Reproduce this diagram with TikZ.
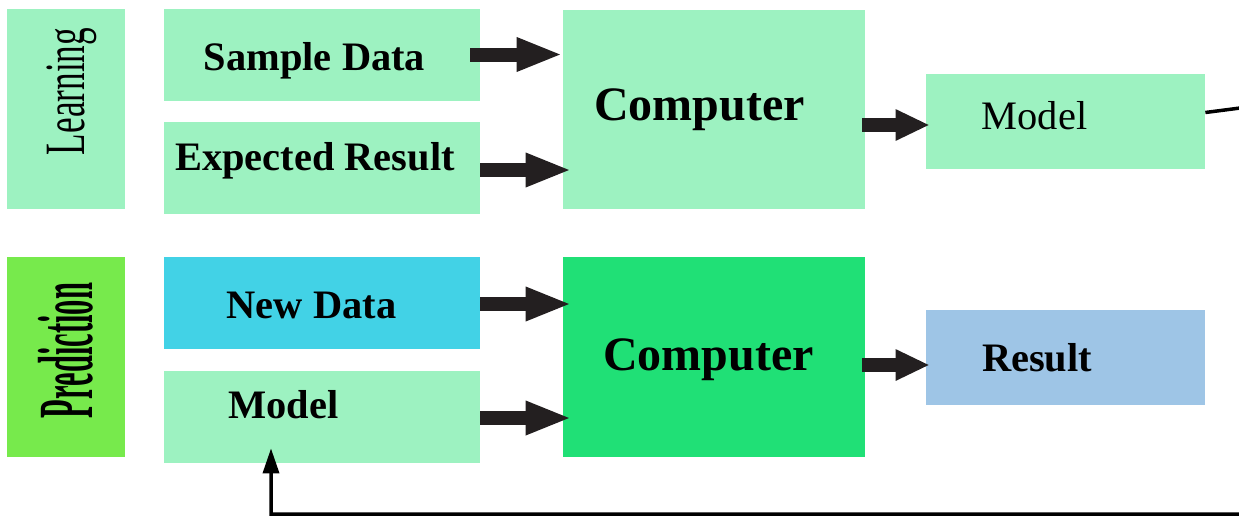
\documentclass[tikz,border=0pt]{standalone}
\usepackage{fontspec}
\setmainfont{Liberation Serif}
\usetikzlibrary{positioning,calc,arrows.meta}
\definecolor{mintcolor}{RGB}{157,242,193}
\definecolor{predcolor}{RGB}{119,234,76}
\definecolor{newcolor}{RGB}{66,210,230}
\definecolor{compcolor}{RGB}{32,224,118}
\definecolor{resultcolor}{RGB}{158,197,230}
\definecolor{arrowcolor}{RGB}{35,31,32}

\begin{document}
\begin{tikzpicture}[
    box/.style={rectangle, inner sep=0pt, minimum width=6.32cm, minimum height=1.84cm},
    sidebox/.style={rectangle, inner sep=0pt, minimum width=2.36cm, minimum height=4cm},
    compbox/.style={rectangle, inner sep=0pt, minimum width=6.04cm, minimum height=3.98cm},
    outbox/.style={rectangle, inner sep=0pt, minimum width=5.58cm, minimum height=1.9cm},
    label/.style={inner sep=0pt, anchor=base, font=\fontsize{23}{27}\selectfont\bfseries},
    biglabel/.style={inner sep=0pt, anchor=base, font=\fontsize{27.3}{32}\selectfont\bfseries},
    sidelabel/.style={inner sep=0pt, rotate=90},
    bigarrow/.style={-{Triangle[length=0.92cm, width=0.62cm]}, line width=0.28cm, arrowcolor},
    shortarrow/.style={bigarrow, -{Triangle[length=0.68cm, width=0.58cm]}},
    feedback/.style={-{Triangle[length=0.5cm, width=0.32cm]}, line width=0.07cm, black}
]
\useasboundingbox (0,0) rectangle (24.78,10.32);

% Learning row
\node[sidebox, fill=mintcolor] (learn) at (1.32, 8.14) {};
\node[box, fill=mintcolor] (sample) at (6.44, 9.23) {};
\node[box, fill=mintcolor] (expected) at (6.44, 6.96) {};
\node[compbox, fill=mintcolor] (comp1) at (14.28, 8.13) {};
\node[outbox, fill=mintcolor] (model1) at (21.31, 7.89) {};

% Prediction row
\node[sidebox, fill=predcolor] (pred) at (1.32, 3.18) {};
\node[box, fill=newcolor] (newdata) at (6.44, 4.26) {};
\node[box, fill=mintcolor] (model2) at (6.44, 1.98) {};
\node[compbox, fill=compcolor, minimum height=4cm] (comp2) at (14.28, 3.18) {};
\node[outbox, fill=resultcolor] (result) at (21.31, 3.17) {};

% Texts
\node[sidelabel] (learntext) at (1.44, 8.49) {\resizebox*{2.54cm}{1.0cm}{Learning}};
\node[sidelabel] (predtext) at (1.31, 3.31) {\resizebox*{2.7cm}{1.1cm}{\bfseries Prediction}};
\node[label] (sampletext) at (6.29, 8.92) {Sample Data};
\node[label] (expectedtext) at (6.30, 6.92) {Expected Result};
\node[biglabel] (comp1text) at (13.99, 7.92) {Computer};
\node[label, font=\fontsize{23}{27}\selectfont] (model1text) at (20.69, 7.74) {Model};
\node[label] (newdatatext) at (6.23, 3.96) {New Data};
\node[label] (model2text) at (5.67, 1.96) {Model};
\node[biglabel] (comp2text) at (14.17, 2.92) {Computer};
\node[label] (resulttext) at (20.74, 2.90) {Result};

% Arrows into the computers
\draw[bigarrow] ([xshift=-0.2cm]sample.east) -- (sample.east -| comp1.west);
\draw[bigarrow] ([yshift=-0.04cm]expected.east) -- ([xshift=0.18cm, yshift=-0.04cm]expected.east -| comp1.west);
\draw[bigarrow] ([yshift=-0.02cm]newdata.east) -- ([xshift=0.18cm, yshift=-0.02cm]newdata.east -| comp2.west);
\draw[bigarrow] ([yshift=-0.02cm]model2.east) -- ([xshift=0.18cm, yshift=-0.02cm]model2.east -| comp2.west);

% Arrows out of the computers
\draw[shortarrow] ([xshift=-0.06cm, yshift=-0.07cm]model1.west -| comp1.east) -- ([xshift=0.08cm, yshift=-0.07cm]model1.west);
\draw[shortarrow] ([xshift=-0.06cm, yshift=-0.15cm]result.west -| comp2.east) -- ([xshift=0.08cm, yshift=-0.15cm]result.west);

% Feedback of the learned model
\coordinate (fbtop) at (25.5, 8.25);
\coordinate (fbbottom) at (25.5, 0.04);
\draw[feedback] ([yshift=0.18cm]model1.east) -- (fbtop) -- (fbbottom)
    -- (fbbottom -| 5.42,0) -- ([xshift=-1.02cm, yshift=0.3cm]model2.south);

\end{tikzpicture}
\end{document}
